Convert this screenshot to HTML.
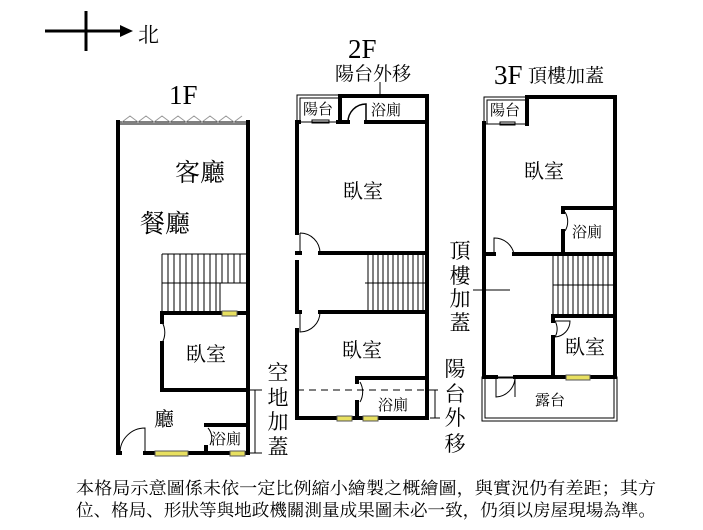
<!DOCTYPE html>
<html><head><meta charset="utf-8"><style>html,body{margin:0;padding:0;background:#fff}svg{display:block}</style></head>
<body>
<svg width="703" height="530" xmlns="http://www.w3.org/2000/svg" font-family="Liberation Serif, Noto Serif CJK SC, serif">
<rect width="703" height="530" fill="#fff"/>
<!-- compass -->
<line x1="45" y1="31" x2="122" y2="31" stroke="#000" stroke-width="3"/>
<polygon points="120,25 133,31 120,37" fill="#000"/>
<line x1="86" y1="11" x2="86" y2="51" stroke="#000" stroke-width="3"/>
<text x="138" y="42" font-size="21">北</text>
<!-- titles -->
<text x="169" y="104" font-size="27">1F</text>
<text x="348" y="58" font-size="27">2F</text>
<text x="335" y="80" font-size="19">陽台外移</text>
<line x1="380" y1="82" x2="380" y2="96" stroke="#000" stroke-width="1"/>
<text x="494" y="84" font-size="27">3F</text>
<text x="528" y="82" font-size="19">頂樓加蓋</text>

<g stroke="#000" stroke-width="4" fill="none" stroke-linecap="square">
<!-- 1F -->
<line x1="118" y1="122" x2="118" y2="453"/>
<line x1="248" y1="122" x2="248" y2="453"/>
<line x1="162" y1="313" x2="248" y2="313"/>
<line x1="162" y1="313" x2="162" y2="322"/>
<line x1="162" y1="343" x2="162" y2="390"/>
<line x1="162" y1="390" x2="248" y2="390"/>
<line x1="206" y1="425" x2="248" y2="425"/>
<line x1="118" y1="453" x2="120" y2="453"/>
<line x1="145" y1="453" x2="248" y2="453"/>
<line x1="206" y1="447" x2="206" y2="453"/>
<!-- 2F -->
<line x1="297" y1="122" x2="297" y2="233"/>
<line x1="297" y1="262" x2="297" y2="312"/>
<line x1="297" y1="330" x2="297" y2="418"/>
<line x1="427" y1="96" x2="427" y2="418"/>
<line x1="340" y1="96" x2="427" y2="96"/>
<line x1="340" y1="96" x2="340" y2="122"/>
<line x1="297" y1="122" x2="299" y2="122"/>
<line x1="338" y1="122" x2="348" y2="122"/>
<line x1="366" y1="122" x2="427" y2="122"/>
<line x1="297" y1="253" x2="300" y2="253"/>
<line x1="320" y1="253" x2="427" y2="253"/>
<line x1="297" y1="312" x2="300" y2="312"/>
<line x1="320" y1="312" x2="427" y2="312"/>
<line x1="357" y1="378" x2="427" y2="378"/>
<line x1="357" y1="378" x2="357" y2="382"/>
<line x1="357" y1="402" x2="357" y2="418"/>
<line x1="297" y1="418" x2="427" y2="418"/>
<!-- 3F -->
<line x1="484" y1="123" x2="484" y2="377"/>
<line x1="615" y1="97" x2="615" y2="377"/>
<line x1="527" y1="97" x2="615" y2="97"/>
<line x1="527" y1="97" x2="527" y2="124"/>
<line x1="563" y1="208" x2="615" y2="208"/>
<line x1="563" y1="208" x2="563" y2="212"/>
<line x1="563" y1="231" x2="563" y2="253"/>
<line x1="484" y1="254" x2="494" y2="254"/>
<line x1="514" y1="254" x2="615" y2="254"/>
<line x1="553" y1="316" x2="615" y2="316"/>
<line x1="553" y1="316" x2="553" y2="321"/>
<line x1="553" y1="337" x2="553" y2="377"/>
<line x1="484" y1="377" x2="496" y2="377"/>
<line x1="515" y1="377" x2="615" y2="377"/>
</g>
<g stroke="#000" stroke-width="1" fill="none">
<line x1="118" y1="122" x2="248" y2="122"/>
<line x1="118" y1="124" x2="248" y2="124"/>
<polyline points="122,122 130,116 138,122 146,116 154,122 162,116 170,122 178,116 186,122 194,116 202,122 210,116 218,122 226,116 234,122 242,116" stroke="#999"/>
<line x1="162" y1="254" x2="246" y2="254"/>
<line x1="162" y1="254" x2="162" y2="313"/>
<line x1="162" y1="283" x2="246" y2="283"/>
<path d="M168 254V313M174 254V313M180 254V313M186 254V313M192 254V313M198 254V313M204 254V313M210 254V313M216 254V313M222 254V283M228 254V283M234 254V283M240 254V283M220 283V313"/>
<path d="M162 322 A21 21 0 0 1 162 343" />
<path d="M120 453 A25 25 0 0 1 145 428 V453"/>
<path d="M208 428 A15 15 0 0 1 210 445"/>
<line x1="255" y1="390" x2="255" y2="453"/>
<line x1="250" y1="390" x2="262" y2="390"/>
<line x1="250" y1="453" x2="262" y2="453"/>
<rect x="297" y="95" width="43" height="27"/>
<rect x="300" y="98" width="40" height="24"/>
<rect x="312" y="120" width="17" height="3"/>
<path d="M348 122 A18 18 0 0 1 366 104 V122" stroke-width="1.5"/>
<path d="M300 233 A20 20 0 0 1 320 253 M300 233 V253"/>
<path d="M300 312 V332 A20 20 0 0 0 320 312"/>
<path d="M360 382 A20 20 0 0 1 360 402"/>
<line x1="365" y1="283" x2="425" y2="283"/>
<path d="M368 254V312M373 254V312M378 254V312M383 254V312M388 254V312M393 254V312M398 254V312M403 254V312M408 254V312M413 254V312M418 254V312M423 254V312"/>
<line x1="297" y1="390" x2="437" y2="390" stroke-dasharray="7,5"/>
<line x1="435" y1="390" x2="435" y2="418"/>
<line x1="430" y1="418" x2="440" y2="418"/>
<line x1="432" y1="390" x2="438" y2="390"/>
<rect x="484" y="97" width="43" height="27"/>
<rect x="487" y="100" width="40" height="24"/>
<rect x="500" y="122" width="15" height="3"/>
<path d="M494 254 V238 A20 20 0 0 1 514 254"/>
<path d="M565 212 A18 18 0 0 1 565 231"/>
<path d="M555 321 A16 16 0 0 1 555 337 M553 321 H570 A16 16 0 0 1 555 337"/>
<path d="M496 377 V397 A20 20 0 0 0 515 377 V397"/>
<line x1="553" y1="254" x2="553" y2="316"/>
<line x1="553" y1="285" x2="614" y2="285"/>
<path d="M558 254V316M563 254V316M568 254V316M573 254V316M578 254V316M583 254V316M588 254V316M593 254V316M598 254V316M603 254V316M608 254V316"/>
<rect x="482" y="377" width="135" height="44"/>
<rect x="485" y="378" width="129" height="40"/>
<line x1="473" y1="290" x2="510" y2="290"/>
</g>
<g fill="#e8e060" stroke="#555" stroke-width="1">
<rect x="222" y="311" width="15" height="5"/>
<rect x="155" y="451" width="33" height="5"/>
<rect x="230" y="451" width="15" height="5"/>
<rect x="337" y="416" width="15" height="5"/>
<rect x="363" y="416" width="15" height="5"/>
<rect x="566" y="375" width="24" height="5"/>
</g>
<g font-size="25">
<text x="175" y="181">客廳</text>
<text x="140" y="232">餐廳</text>
</g>
<g font-size="20">
<text x="186" y="361">臥室</text>
<text x="154" y="426">廳</text>
<text x="343" y="198">臥室</text>
<text x="342" y="357">臥室</text>
<text x="524" y="178">臥室</text>
<text x="565" y="354">臥室</text>
</g>
<g font-size="15">
<text x="211" y="444">浴廁</text>
<text x="303" y="114">陽台</text>
<text x="371" y="115">浴廁</text>
<text x="378" y="410">浴廁</text>
<text x="490" y="115">陽台</text>
<text x="572" y="237">浴廁</text>
<text x="535" y="405">露台</text>
</g>
<g font-size="21" text-anchor="middle">
<text x="278" y="380">空</text><text x="278" y="405">地</text><text x="278" y="429">加</text><text x="278" y="454">蓋</text>
<text x="460" y="258">頂</text><text x="460" y="283">樓</text><text x="460" y="306">加</text><text x="460" y="330">蓋</text>
<text x="455" y="376">陽</text><text x="455" y="401">台</text><text x="455" y="425">外</text><text x="455" y="451">移</text>
</g>
<g font-size="17">
<text x="76" y="494" textLength="580" lengthAdjust="spacingAndGlyphs">本格局示意圖係未依一定比例縮小繪製之概繪圖，與實況仍有差距；其方</text>
<text x="76" y="516" textLength="580" lengthAdjust="spacingAndGlyphs">位、格局、形狀等與地政機關測量成果圖未必一致，仍須以房屋現場為準。</text>
</g>
</svg>
</body></html>
